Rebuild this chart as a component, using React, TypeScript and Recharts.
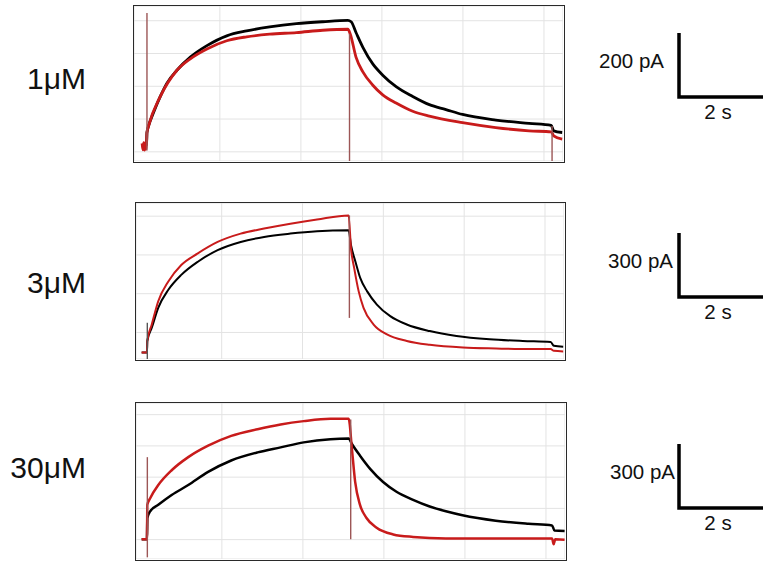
import React from "react";
import { LineChart, Line, XAxis, YAxis, CartesianGrid, ReferenceLine } from "recharts";

type Pt = [number, number];

// time (s) grid and current ticks (pA) for each panel
const timeTicks = [2, 4, 6, 8, 10];
const p1Ticks = [0, 50, 100, 150, 200, 250, 300, 350, 400];
const p2Ticks = [0, 100, 200, 300, 400, 500, 600, 700];
const p3Ticks = [0, 75, 150, 225, 300, 375, 450, 525, 600];

const concentrations = ["1μM", "3μM", "30μM"];
const scaleLabels = ["200 pA", "300 pA", "300 pA"];

// 1 μM
const p1Black: Pt[] = [
  [0.08, 20], [0.19, 20], [0.2, 59], [0.24, 79], [0.36, 119], [0.53, 169], [0.69, 209], [0.94, 249],
  [1.27, 289], [1.68, 324], [2.17, 354], [2.66, 369], [3.23, 381], [3.89, 391], [4.54, 397], [5.16, 401],
  [5.24, 397], [5.36, 364], [5.53, 319], [5.77, 269], [6.02, 234], [6.35, 199], [6.76, 169], [7.17, 144],
  [7.58, 129], [7.99, 114], [8.81, 97], [9.63, 87], [10.18, 81], [10.24, 64], [10.45, 59],
];
const p1Red: Pt[] = [
  [0.08, 26], [0.1, 6], [0.12, 28], [0.14, 5], [0.16, 27], [0.18, 8], [0.2, 59], [0.24, 79], [0.53, 169],
  [0.94, 249], [1.27, 284], [1.68, 314], [2.17, 339], [2.66, 351], [3.23, 359], [3.89, 364], [4.54, 371],
  [5.16, 374], [5.22, 359], [5.36, 289], [5.53, 244], [5.77, 204], [6.02, 174], [6.35, 149], [6.76, 124],
  [7.17, 109], [7.99, 89], [8.81, 74], [9.63, 64], [10.18, 61], [10.24, 49], [10.45, 39],
];
const p1Artifacts = [
  { t: 0.2, from: 424, to: 4, color: "#9c5656" },
  { t: 5.2, from: 360, to: -28, color: "#9c5656" },
  { t: 10.2, from: 79, to: -28, color: "#9c5656" },
];

// 3 μM
const p2Black: Pt[] = [
  [0.02, -3], [0.15, -3], [0.16, 56], [0.27, 124], [0.43, 227], [0.68, 320], [1.0, 397], [1.41, 465],
  [1.9, 525], [2.47, 567], [3.05, 593], [3.7, 610], [4.36, 622], [5.14, 627], [5.2, 550], [5.31, 465],
  [5.43, 380], [5.6, 312], [5.84, 244], [6.17, 184], [6.58, 141], [7.15, 107], [7.81, 82], [8.63, 65],
  [9.45, 56], [10.14, 51], [10.22, 31], [10.45, 26],
];
const p2Red: Pt[] = [
  [0.02, -3], [0.15, -3], [0.16, 56], [0.27, 141], [0.43, 261], [0.68, 363], [1.0, 448], [1.41, 508],
  [1.9, 567], [2.47, 610], [3.05, 636], [3.7, 661], [4.36, 683], [5.14, 704], [5.2, 533], [5.28, 431],
  [5.39, 312], [5.51, 227], [5.76, 141], [6.09, 90], [6.58, 56], [7.15, 36], [7.97, 22], [8.79, 17],
  [9.61, 14], [10.14, 14], [10.22, 5], [10.45, 2],
];
const p2Artifacts = [
  { t: 0.16, from: 150, to: -37, color: "#555" },
  { t: 5.16, from: 704, to: 175, color: "#9c5656" },
];

// 30 μM
const p3Black: Pt[] = [
  [0.02, 2], [0.15, 2], [0.16, 104], [0.23, 136], [0.43, 167], [0.76, 214], [1.17, 262], [1.66, 325],
  [2.23, 380], [2.88, 419], [3.45, 443], [4.02, 467], [4.68, 482], [5.13, 485], [5.21, 459], [5.41, 403],
  [5.66, 340], [5.98, 277], [6.31, 230], [6.72, 191], [7.13, 159], [7.53, 136], [7.94, 117], [8.76, 91],
  [9.57, 76], [10.15, 68], [10.21, 44], [10.46, 41],
];
const p3Red: Pt[] = [
  [0.02, 2], [0.15, 2], [0.16, 167], [0.23, 199], [0.43, 262], [0.76, 333], [1.17, 396], [1.66, 451],
  [2.23, 498], [2.88, 530], [3.45, 553], [4.02, 569], [4.68, 580], [5.13, 580], [5.21, 435], [5.29, 277],
  [5.41, 167], [5.57, 104], [5.82, 57], [6.23, 25], [6.72, 13], [7.53, 6], [8.76, 6], [9.57, 5],
  [10.15, 6], [10.19, -22], [10.23, 2], [10.46, 0],
];
const p3Artifacts = [
  { t: 0.16, from: 396, to: -85, color: "#9c5656" },
  { t: 5.18, from: 577, to: 2, color: "#9c5656" },
];

const toRows = (pts: Pt[]) => pts.map(([t, i]) => ({ t, i }));

type PanelProps = {
  left: number;
  top: number;
  width: number;
  height: number;
  yDomain: [number, number];
  yTicks: number[];
  black: Pt[];
  red: Pt[];
  artifacts: { t: number; from: number; to: number; color: string }[];
  stroke: number;
};

function Panel(p: PanelProps) {
  return (
    <div
      style={{
        position: "absolute",
        left: p.left,
        top: p.top,
        width: p.width,
        height: p.height,
        border: "1.5px solid #2a2a2a",
        boxSizing: "border-box",
        background: "#fff",
      }}
    >
      <LineChart width={p.width - 3} height={p.height - 3} margin={{ top: 0, right: 0, bottom: 0, left: 0 }}>
        <XAxis type="number" dataKey="t" domain={[-0.12, 10.47]} ticks={timeTicks} hide allowDataOverflow />
        <YAxis type="number" domain={p.yDomain} ticks={p.yTicks} hide allowDataOverflow />
        <CartesianGrid stroke="#e3e3e3" strokeWidth={1} />
        <Line data={toRows(p.black)} dataKey="i" type="monotone" stroke="#000" strokeWidth={p.stroke} dot={false} isAnimationActive={false} />
        <Line data={toRows(p.red)} dataKey="i" type="monotone" stroke="#c81b1b" strokeWidth={p.stroke} dot={false} isAnimationActive={false} />
        {p.artifacts.map((a, k) => (
          <ReferenceLine
            key={k}
            segment={[{ x: a.t, y: a.from }, { x: a.t, y: a.to }]}
            stroke={a.color}
            strokeWidth={1.4}
          />
        ))}
      </LineChart>
    </div>
  );
}

function ScaleBar({ top, label, textRight }: { top: number; label: string; textRight: number }) {
  return (
    <>
      <div style={{ position: "absolute", left: textRight - 110, top: top + 16, width: 110, textAlign: "right", fontSize: 20.5 }}>{label}</div>
      <svg style={{ position: "absolute", left: 675, top: top - 2 }} width={92} height={72}>
        <polyline points="4,2 4,66 88,66" fill="none" stroke="#000" strokeWidth={3.5} />
      </svg>
      <div style={{ position: "absolute", left: 690, top: top + 67, width: 56, textAlign: "center", fontSize: 20.5 }}>2 s</div>
    </>
  );
}

export default function App() {
  const labelTops = [62, 266, 451];
  return (
    <div
      style={{
        position: "absolute",
        left: 0,
        top: 0,
        width: 767,
        height: 565,
        background: "#fff",
        fontFamily: "'Liberation Sans', Arial, sans-serif",
        color: "#111",
      }}
    >
      {concentrations.map((c, k) => (
        <div key={c} style={{ position: "absolute", left: 0, top: labelTops[k], width: 86, textAlign: "right", fontSize: 30 }}>
          {c}
        </div>
      ))}
      <Panel left={133} top={5} width={432} height={158} yDomain={[-28, 445]} yTicks={p1Ticks} black={p1Black} red={p1Red} artifacts={p1Artifacts} stroke={2.8} />
      <Panel left={135} top={202} width={431} height={159} yDomain={[-37, 768]} yTicks={p2Ticks} black={p2Black} red={p2Red} artifacts={p2Artifacts} stroke={2} />
      <Panel left={135} top={402} width={432} height={159} yDomain={[-93, 656]} yTicks={p3Ticks} black={p3Black} red={p3Red} artifacts={p3Artifacts} stroke={2.5} />
      <ScaleBar top={33} label={scaleLabels[0]} textRight={664} />
      <ScaleBar top={233} label={scaleLabels[1]} textRight={673} />
      <ScaleBar top={444} label={scaleLabels[2]} textRight={675} />
    </div>
  );
}
